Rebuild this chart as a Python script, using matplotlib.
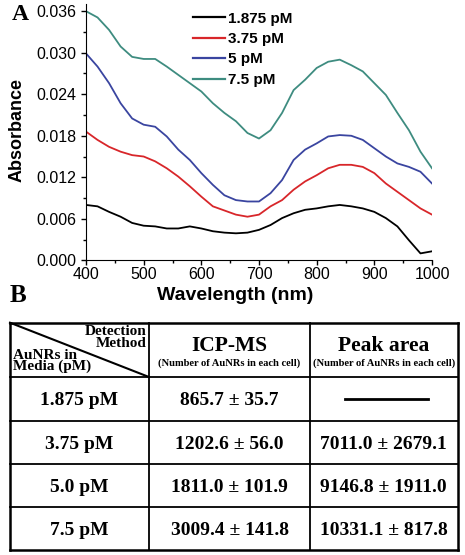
import numpy as np
import matplotlib.pyplot as plt
from matplotlib.ticker import MultipleLocator

wavelength = np.arange(400, 1001, 20)

abs_1875 = [0.0080, 0.0078, 0.0070, 0.0063, 0.0054, 0.0050, 0.0049, 0.0046,
            0.0046, 0.0049, 0.0046, 0.0042, 0.0040, 0.0039, 0.0040, 0.0044,
            0.0051, 0.0061, 0.0068, 0.0073, 0.0075, 0.0078, 0.0080, 0.0078,
            0.0075, 0.0070, 0.0061, 0.0049, 0.0029, 0.0010, 0.0013]
abs_375 = [0.0186, 0.0174, 0.0164, 0.0157, 0.0152, 0.0150, 0.0143, 0.0133,
           0.0121, 0.0107, 0.0092, 0.0078, 0.0072, 0.0066, 0.0063, 0.0066,
           0.0078, 0.0087, 0.0102, 0.0114, 0.0123, 0.0133, 0.0138, 0.0138,
           0.0135, 0.0126, 0.0111, 0.0099, 0.0087, 0.0075, 0.0066]
abs_5 = [0.0299, 0.0280, 0.0256, 0.0227, 0.0205, 0.0196, 0.0193, 0.0179,
         0.0160, 0.0145, 0.0126, 0.0109, 0.0094, 0.0087, 0.0085, 0.0085,
         0.0097, 0.0116, 0.0145, 0.0160, 0.0169, 0.0179, 0.0181, 0.0180,
         0.0174, 0.0162, 0.0150, 0.0140, 0.0135, 0.0128, 0.0111]
abs_75 = [0.0360, 0.0351, 0.0333, 0.0309, 0.0294, 0.0291, 0.0291, 0.0280,
          0.0268, 0.0256, 0.0244, 0.0227, 0.0213, 0.0201, 0.0184, 0.0176,
          0.0188, 0.0213, 0.0246, 0.0261, 0.0278, 0.0287, 0.0290, 0.0282,
          0.0273, 0.0256, 0.0239, 0.0213, 0.0188, 0.0157, 0.0133]

series_labels = ['1.875 pM', '3.75 pM', '5 pM', '7.5 pM']
series_colors = ['#000000', '#d8262a', '#3a45a0', '#3e8c80']

col_headers = ['ICP-MS', 'Peak area']
col_sub = '(Number of AuNRs in each cell)'
row_labels = ['1.875 pM', '3.75 pM', '5.0 pM', '7.5 pM']
icp_ms = ['865.7 ± 35.7', '1202.6 ± 56.0', '1811.0 ± 101.9', '3009.4 ± 141.8']
peak_area = [None, '7011.0 ± 2679.1', '9146.8 ± 1911.0', '10331.1 ± 817.8']

W, H = 465, 555
sans = 'Liberation Sans'
serif = 'Liberation Serif'
fig = plt.figure(figsize=(W / 100, H / 100), dpi=100)

# ---- panel A ----
ax = fig.add_axes([86 / W, 1 - 260.3 / H, 346 / W, 256 / H])
for y, lab, c in zip([abs_1875, abs_375, abs_5, abs_75], series_labels, series_colors):
    ax.plot(wavelength, y, color=c, lw=1.3, label=lab)
ax.set_xlim(400, 1000)
ax.set_ylim(0, 0.037)
ax.set_yticks(np.arange(0, 0.0361, 0.006))
ax.yaxis.set_major_formatter(plt.FuncFormatter(lambda v, p: '%.3f' % v))
ax.xaxis.set_minor_locator(MultipleLocator(50))
ax.yaxis.set_minor_locator(MultipleLocator(0.003))
ax.spines['top'].set_visible(False)
ax.spines['right'].set_visible(False)
ax.tick_params(which='major', direction='out', length=3.5, width=1, labelsize=11.5)
ax.tick_params(axis='x', which='major', pad=1.5)
ax.tick_params(which='minor', direction='out', length=2.5, width=1)
for t in ax.get_xticklabels() + ax.get_yticklabels():
    t.set_family(sans)
fig.text(235 / W, 1 - 295 / H, 'Wavelength (nm)', fontsize=14, fontweight='bold',
         family=sans, ha='center', va='center')
fig.text(17.5 / W, 1 - 130 / H, 'Absorbance', fontsize=13, fontweight='bold',
         family=sans, ha='center', va='center', rotation=90)
leg = ax.legend(loc='upper left', bbox_to_anchor=(0.27, 1.025), frameon=False,
                handlelength=2.1, handletextpad=0.2, labelspacing=0.42,
                prop={'family': sans, 'weight': 'bold', 'size': 11})
for ln in leg.get_lines():
    ln.set_linewidth(1.6)

# ---- panel B (table) ----
tb = fig.add_axes([0, 0, 1, 1])
tb.set_xlim(0, W)
tb.set_ylim(H, 0)
tb.axis('off')
tb.patch.set_alpha(0)

fig.text(12 / W, 1 - 15 / H, 'A', fontsize=17, fontweight='bold', family=serif,
         ha='left', va='center')
fig.text(10 / W, 1 - 296 / H, 'B', fontsize=18, fontweight='bold', family=serif,
         ha='left', va='center')

xs = [10, 149, 310, 457.5]
ys = [322.7, 377, 420.5, 464, 507.3, 550]
for i, x in enumerate(xs):
    tb.plot([x, x], [ys[0], ys[-1]], color='k', lw=1.8 if i in (0, 3) else 1.3)
for i, y in enumerate(ys):
    tb.plot([xs[0], xs[-1]], [y, y], color='k', lw=1.8 if i in (0, 5) else 1.3)
tb.plot([xs[0], xs[1]], [ys[0], ys[1]], color='k', lw=1.5)

hdr = dict(fontsize=11, fontweight='bold', family=serif, va='center',
           linespacing=0.82)
tb.text(147, 337.5, 'Detection\nMethod', ha='right', multialignment='right', **hdr)
tb.text(12.5, 361, 'AuNRs in\nMedia (pM)', ha='left', multialignment='left', **hdr)

col_cx = [(xs[1] + xs[2]) / 2, (xs[2] + xs[3]) / 2]
for cx, h in zip(col_cx, col_headers):
    tb.text(cx, 351, h, fontsize=15.5, fontweight='bold', family=serif,
            ha='center', va='baseline')
    tb.text(cx, 363, col_sub, fontsize=7.6, fontweight='bold', family=serif,
            ha='center', va='center')

cell = dict(fontsize=14, fontweight='bold', family=serif, ha='center', va='baseline')
for i in range(len(row_labels)):
    cy = (ys[i + 1] + ys[i + 2]) / 2
    base = cy + 6.5
    tb.text((xs[0] + xs[1]) / 2, base, row_labels[i], **cell)
    tb.text(col_cx[0], base, icp_ms[i], **cell)
    if peak_area[i] is None:
        tb.plot([345, 427.5], [cy, cy], color='k', lw=2)
    else:
        tb.text(col_cx[1], base, peak_area[i], **cell)

fig.savefig('out.png', dpi=100)
